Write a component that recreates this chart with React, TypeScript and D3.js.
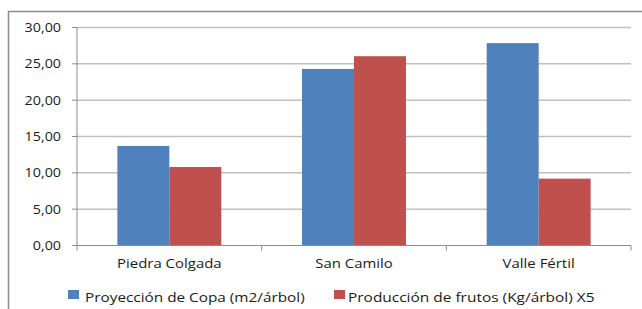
import React from "react";
import * as d3 from "d3";

const categories = ["Piedra Colgada", "San Camilo", "Valle Fértil"];
const seriesNames = ["Proyección de Copa (m2/árbol)", "Producción de frutos (Kg/árbol) X5"];
const copa = [13.7, 24.3, 27.85];
const frutos = [10.8, 26.05, 9.2];
const yTicks = [0, 5, 10, 15, 20, 25, 30];
const colors = ["#4F81BD", "#C0504D"];

const W = 642;
const H = 309;
const left = 77;
const right = 631;
const top = 27.5;
const bottom = 245.5;
const FONT = "'Open Sans', sans-serif";

function T({ x, y, sx, anchor, children }: { x: number; y: number; sx: number; anchor?: string; children: React.ReactNode }) {
  return (
    <text
      transform={`translate(${x},${y}) scale(${sx},1)`}
      textAnchor={anchor || "start"}
      fontFamily={FONT}
      fontSize={13}
      fill="#1a1a1a"
    >
      {children}
    </text>
  );
}

export default function App() {
  const x0 = d3.scaleBand<string>().domain(categories).range([left, right]).paddingInner(0.437).paddingOuter(0.2185);
  const x1 = d3.scaleBand<number>().domain([0, 1]).range([0, x0.bandwidth()]);
  const y = d3.scaleLinear().domain([0, 30]).range([bottom, top]);
  const xTick = d3.scalePoint<number>().domain([0, 1, 2, 3]).range([left, right]);
  const fmt = (v: number) => v.toFixed(2).replace(".", ",");
  const series = [copa, frutos];

  return (
    <svg width={W} height={H} style={{ position: "absolute", left: 0, top: 0, background: "#fff" }}>
      <rect x={8.5} y={11.5} width={W} height={H} fill="#fff" stroke="#8c8c8c" strokeWidth={1.5} />
      {yTicks.map((t) => (
        <g key={t}>
          {t > 0 && <line x1={left} x2={right} y1={y(t)} y2={y(t)} stroke="#c0c0c0" strokeWidth={1.5} />}
          <line x1={left - 5} x2={left} y1={y(t)} y2={y(t)} stroke="#8c8c8c" strokeWidth={1} />
          <T x={61} y={y(t) + 4.5} sx={1.1} anchor="end">{fmt(t)}</T>
        </g>
      ))}
      {series.map((vals, si) =>
        vals.map((v, ci) => (
          <rect
            key={`${si}-${ci}`}
            x={(x0(categories[ci]) as number) + (x1(si) as number)}
            y={y(v)}
            width={x1.bandwidth()}
            height={y(0) - y(v)}
            fill={colors[si]}
          />
        ))
      )}
      <line x1={left} x2={left} y1={top} y2={bottom} stroke="#8c8c8c" strokeWidth={1} />
      <line x1={left} x2={right} y1={bottom} y2={bottom} stroke="#8c8c8c" strokeWidth={1} />
      {xTick.domain().map((d) => (
        <line key={d} x1={xTick(d)} x2={xTick(d)} y1={bottom} y2={bottom + 5} stroke="#8c8c8c" strokeWidth={1} />
      ))}
      {categories.map((c) => (
        <T key={c} x={(x0(c) as number) + x0.bandwidth() / 2} y={268} sx={1.15} anchor="middle">{c}</T>
      ))}
      <rect x={68} y={290} width={11} height={9} fill={colors[0]} />
      <T x={85} y={302} sx={1.18}>{seriesNames[0]}</T>
      <rect x={334} y={290} width={11} height={9} fill={colors[1]} />
      <T x={348} y={302} sx={1.19}>{seriesNames[1]}</T>
    </svg>
  );
}
